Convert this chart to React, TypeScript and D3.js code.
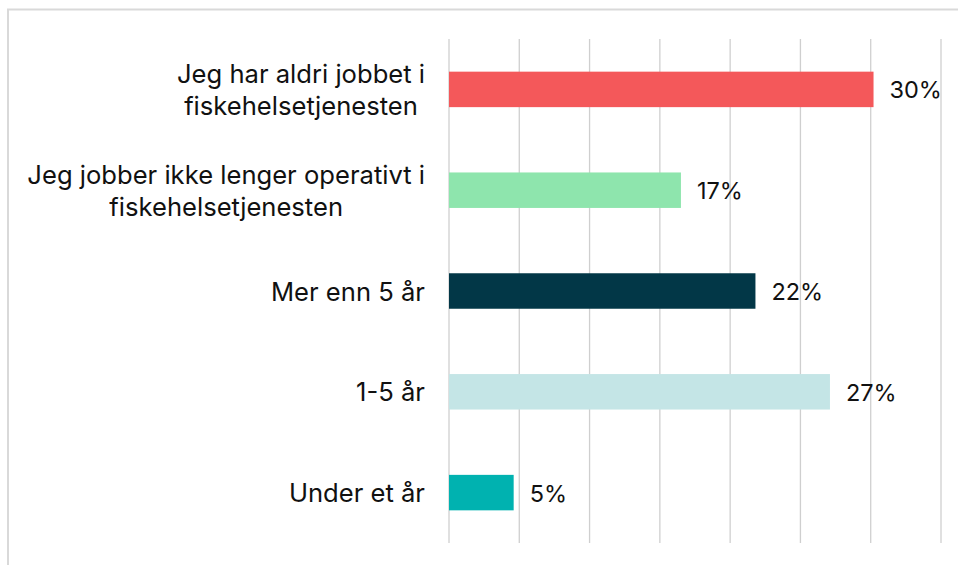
import React, { useEffect, useRef } from "react";
import * as d3 from "d3";

// kategorier, fra topp til bunn
const categories: string[][] = [
  ["Jeg har aldri jobbet i", "fiskehelsetjenesten"],
  ["Jeg jobber ikke lenger operativt i", "fiskehelsetjenesten"],
  ["Mer enn 5 år"],
  ["1-5 år"],
  ["Under et år"],
];
const values = [30.2, 16.5, 21.8, 27.1, 4.6];
const colors = ["#F4585A", "#8EE5AD", "#023747", "#C4E5E6", "#00B2B0"];
const ticks = [0, 5, 10, 15, 20, 25, 30, 35];

const W = 958;
const H = 565;
const FONT = "Inter, 'Noto Sans', sans-serif";

const App = () => {
  const ref = useRef<SVGSVGElement | null>(null);

  useEffect(() => {
    const svg = d3.select(ref.current);
    svg.selectAll("*").remove();

    const x = d3.scaleLinear().domain([0, 35]).range([449, 941]);
    const y = d3.scaleBand<number>()
      .domain(d3.range(categories.length))
      .range([39, 543])
      .paddingInner(0.648)
      .paddingOuter(0.324);

    // ramme
    svg.append("rect")
      .attr("x", 8)
      .attr("y", 9.5)
      .attr("width", W)
      .attr("height", H)
      .attr("fill", "none")
      .attr("stroke", "#d9d9d9")
      .attr("stroke-width", 2);

    // rutenett
    svg.append("g")
      .selectAll("line")
      .data(ticks)
      .join("line")
      .attr("x1", d => x(d))
      .attr("x2", d => x(d))
      .attr("y1", 39)
      .attr("y2", 543)
      .attr("stroke", "#cfcfcf")
      .attr("stroke-width", 1.3);

    svg.append("g")
      .selectAll("rect")
      .data(values)
      .join("rect")
      .attr("x", x(0))
      .attr("y", (_, i) => y(i)!)
      .attr("width", d => x(d) - x(0))
      .attr("height", y.bandwidth())
      .attr("fill", (_, i) => colors[i]);

    svg.append("g")
      .selectAll("text")
      .data(values)
      .join("text")
      .attr("x", d => x(d) + 16)
      .attr("y", (_, i) => y(i)! + y.bandwidth() / 2 + 9)
      .attr("font-family", FONT)
      .attr("font-size", 23.5)
      .attr("fill", "#111")
      .text(d => `${Math.round(d)}%`);

    // kategorietiketter: linjene sentreres i en høyrejustert blokk
    const lineH = 32;
    categories.forEach((lines, i) => {
      const cy = y(i)! + y.bandwidth() / 2;
      const t = svg.append("text")
        .attr("font-family", FONT)
        .attr("font-size", 25.6)
        .attr("fill", "#111")
        .attr("text-anchor", "middle");
      const spans = lines.map((ln, j) =>
        t.append("tspan")
          .attr("y", cy + 9.5 + (j - (lines.length - 1) / 2) * lineH)
          .text(ln)
      );
      const maxW = d3.max(spans, s => (s.node() as SVGTSpanElement).getComputedTextLength()) || 0;
      spans.forEach(s => s.attr("x", 425 - maxW / 2));
    });
  }, []);

  return (
    <svg
      ref={ref}
      width={W}
      height={H}
      style={{ position: "absolute", left: 0, top: 0, background: "#fff" }}
    />
  );
};

export default App;
